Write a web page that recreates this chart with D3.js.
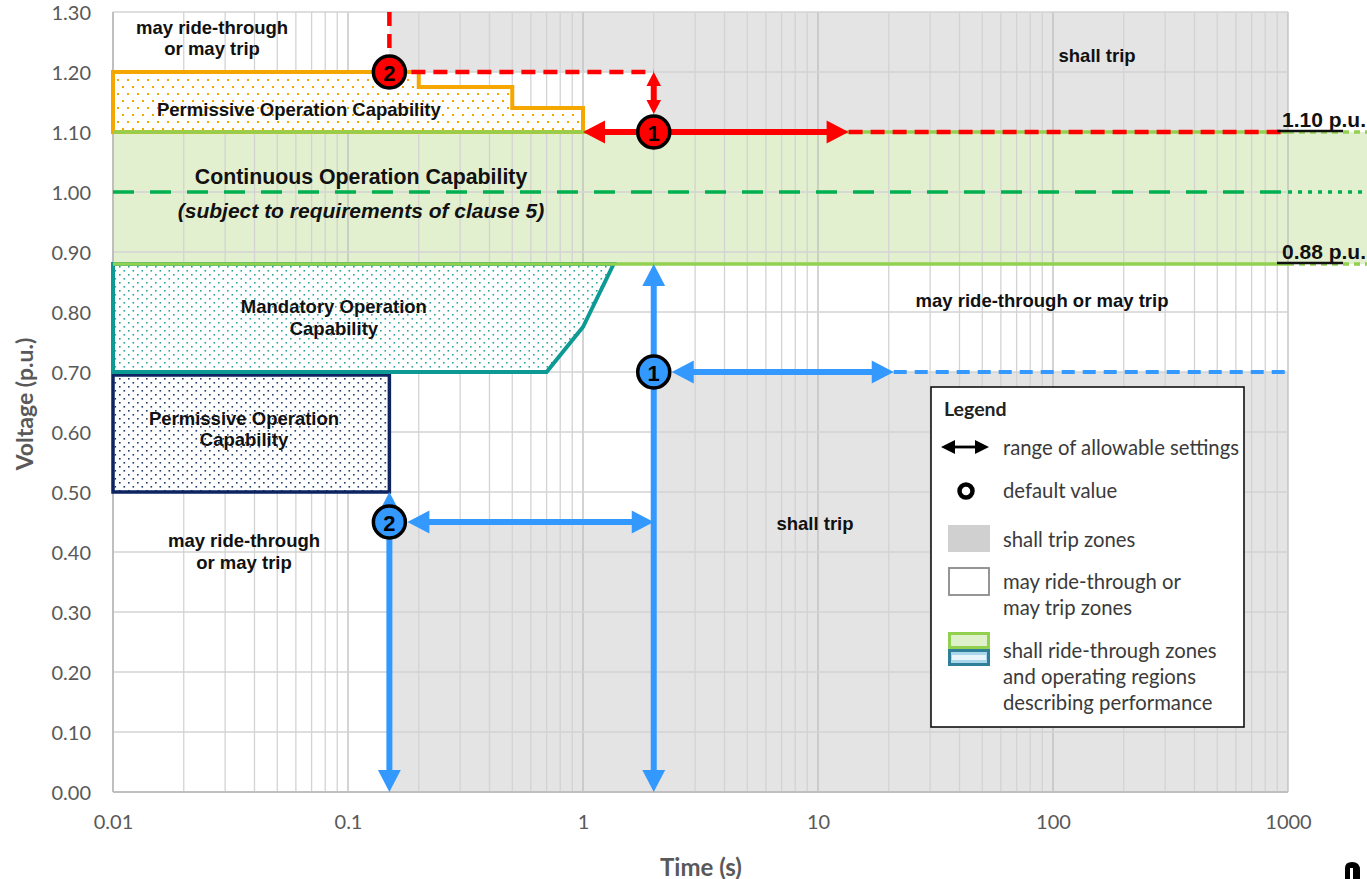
<!DOCTYPE html>
<html><head><meta charset="utf-8">
<script src="https://cdn.jsdelivr.net/npm/d3@7"></script>
<style>body{margin:0;background:#fff;} svg{display:block;}</style>
</head><body>
<svg id="c" width="1367" height="879"></svg>
<script>
// ---------------- DATA ----------------
const xTicks = [0.01, 0.1, 1, 10, 100, 1000];
const xTickLabels = ["0.01", "0.1", "1", "10", "100", "1000"];
const yTicks = [0, 0.1, 0.2, 0.3, 0.4, 0.5, 0.6, 0.7, 0.8, 0.9, 1.0, 1.1, 1.2, 1.3];
const yTickLabels = ["0.00","0.10","0.20","0.30","0.40","0.50","0.60","0.70","0.80","0.90","1.00","1.10","1.20","1.30"];

// shall-trip zones (time s, voltage p.u.)
const shallTripTop = [[0.15,1.30],[1000,1.30],[1000,1.10],[2,1.10],[2,1.20],[0.15,1.20]];
const shallTripBottom = [[0.15,0.45],[2,0.45],[2,0.70],[1000,0.70],[1000,0],[0.15,0]];
// continuous operation band
const continuousBand = [0.88, 1.10];
const nominalV = 1.00;
// permissive operation (over-voltage) staircase
const ovPermissive = [[0.01,1.10],[0.01,1.20],[0.2,1.20],[0.2,1.175],[0.5,1.175],[0.5,1.14],[1,1.14],[1,1.10]];
// mandatory operation region
const mandatory = [[0.01,0.88],[1.35,0.88],[1.0,0.775],[0.7,0.70],[0.01,0.70]];
// permissive operation (under-voltage)
const uvPermissive = [[0.01,0.50],[0.15,0.50],[0.15,0.695],[0.01,0.695]];

// default values
const ovDefaults = [{t:2, v:1.10, label:"1"}, {t:0.15, v:1.20, label:"2"}];
const uvDefaults = [{t:2, v:0.70, label:"1"}, {t:0.15, v:0.45, label:"2"}];

// ranges of allowable settings
const ovArrows = [
  {a:[2,1.20], b:[2,1.10], cutB:true, head:14},
  {a:[1,1.10], b:[13.5,1.10], head:22}
];
const ovDashed = [
  [[0.15,1.30],[0.15,1.20]],
  [[0.15,1.20],[2,1.20]],
  [[13.5,1.10],[1000,1.10]]
];
const uvArrows = [
  {a:[0.15,0.50], b:[0.15,0], head:22},
  {a:[0.15,0.45], b:[2,0.45], cutA:true, head:22},
  {a:[2,0.88], b:[2,0], head:22},
  {a:[2,0.70], b:[21,0.70], cutA:true, head:22}
];
const uvDashed = [ [[21,0.70],[1000,0.70]] ];

// region labels
const regionLabels = [
  {t:0.0264, v:[1.275,1.24], text:["may ride-through","or may trip"]},
  {t:154, v:[1.228], text:["shall trip"]},
  {t:0.0618, v:[1.137], text:["Permissive Operation Capability"]},
  {t:0.0871, v:[0.81,0.773], text:["Mandatory Operation","Capability"]},
  {t:89.8, v:[0.82], text:["may ride-through or may trip"]},
  {t:0.0361, v:[0.623,0.587], text:["Permissive Operation","Capability"]},
  {t:0.0361, v:[0.42,0.383], text:["may ride-through","or may trip"]},
  {t:9.71, v:[0.447], text:["shall trip"]}
];
const bandTitle = {t:0.1136, v:1.025, text:"Continuous Operation Capability"};
const bandSub = {t:0.1136, v:0.97, text:"(subject to requirements of clause 5)"};
const limitLabels = [{v:1.10, text:"1.10 p.u."},{v:0.88, text:"0.88 p.u."}];

const legendItems = ["range of allowable settings","default value","shall trip zones",
  ["may ride-through or","may trip zones"],["shall ride-through zones","and operating regions","describing performance"]];

// ---------------- CHART ----------------
const W = 1367, H = 879;
const svg = d3.select("#c");
const x = d3.scaleLog().domain([0.01, 1000]).range([113, 1288]);
const y = d3.scaleLinear().domain([0, 1.3]).range([792, 12]);
const P = d => [x(d[0]), y(d[1])];
const line = d3.line().x(d => x(d[0])).y(d => y(d[1]));

const defs = svg.append("defs");
function dotPattern(id, w, h, dots, color, size) {
  const p = defs.append("pattern").attr("id", id).attr("width", w).attr("height", h)
    .attr("patternUnits", "userSpaceOnUse");
  p.append("rect").attr("width", w).attr("height", h).attr("fill", "#fff");
  dots.forEach(d => p.append("rect").attr("x", d[0]).attr("y", d[1]).attr("width", size).attr("height", size).attr("fill", color));
}
dotPattern("pOrange", 10, 14, [[2,2],[7,9]], "#f5a700", 2);
dotPattern("pTeal", 9, 8, [[2,2],[6.5,6]], "#2aa39c", 1.6);
dotPattern("pNavy", 9, 8, [[2,2],[6.5,6]], "#1f3a70", 1.6);
dotPattern("pLegG", 5, 4, [[1,1]], "#ffffff", 1.5);

const GRAY = "#e4e4e4";
svg.append("path").attr("d", line(shallTripTop) + "Z").attr("fill", GRAY);
svg.append("path").attr("d", line(shallTripBottom) + "Z").attr("fill", GRAY);

// green band (extends past plot to the page edge)
const tEdge = x.invert(W);
svg.append("rect").attr("x", x(0.01)).attr("y", y(continuousBand[1]))
  .attr("width", x(tEdge) - x(0.01)).attr("height", y(continuousBand[0]) - y(continuousBand[1]))
  .attr("fill", "#e3f0cf");

// grid
const gGrid = svg.append("g");
const vLines = [];
for (let d = -2; d <= 2; d++) for (let k = 1; k <= 9; k++) vLines.push(k * Math.pow(10, d));
vLines.push(1000);
gGrid.selectAll("line.v").data(vLines).enter().append("line")
  .attr("x1", d => x(d)).attr("x2", d => x(d)).attr("y1", y(1.3)).attr("y2", y(0))
  .attr("stroke", d => Math.abs(Math.log10(d) - Math.round(Math.log10(d))) < 1e-9 ? "#bdbdbd" : "#d3d3d3")
  .attr("stroke-width", 1.3);
gGrid.selectAll("line.h").data(yTicks).enter().append("line")
  .attr("x1", x(0.01)).attr("x2", x(1000)).attr("y1", d => y(d)).attr("y2", d => y(d))
  .attr("stroke", "#d3d3d3").attr("stroke-width", 1.3);
svg.append("line").attr("x1", x(0.01)).attr("x2", x(1000)).attr("y1", y(0)).attr("y2", y(0)).attr("stroke", "#bfbfbf").attr("stroke-width", 2);
svg.append("line").attr("x1", x(0.01)).attr("x2", x(0.01)).attr("y1", y(0)).attr("y2", y(1.3)).attr("stroke", "#bfbfbf").attr("stroke-width", 2);

// axes
const axFont = "Lato, 'Open Sans', sans-serif";
const xAxis = d3.axisBottom(x).tickValues(xTicks).tickFormat((d, i) => xTickLabels[i]).tickSize(0).tickPadding(23);
const gx = svg.append("g").attr("transform", `translate(0,${y(0)})`).call(xAxis);
const yAxis = d3.axisLeft(y).tickValues(yTicks).tickFormat((d, i) => yTickLabels[i]).tickSize(0).tickPadding(22);
const gy = svg.append("g").attr("transform", `translate(${x(0.01)},0)`).call(yAxis);
[gx, gy].forEach(g => {
  g.select(".domain").remove();
  g.selectAll("text").attr("font-family", axFont).attr("font-size", 20).attr("fill", "#595959");
});
gy.selectAll("text").attr("dy", "0.36em");
svg.append("text").attr("transform", "translate(24,404) rotate(-90)").attr("text-anchor", "middle")
  .attr("dominant-baseline", "central")
  .attr("font-family", axFont).attr("font-weight", "bold").attr("font-size", 23).attr("fill", "#595959").text("Voltage (p.u.)");
svg.append("text").attr("x", 701).attr("y", 866).attr("text-anchor", "middle").attr("dominant-baseline", "central")
  .attr("font-family", axFont).attr("font-weight", "bold").attr("font-size", 24).attr("fill", "#595959").text("Time (s)");

// regions
svg.append("path").attr("d", line(uvPermissive) + "Z").attr("fill", "url(#pNavy)")
  .attr("stroke", "#0d2461").attr("stroke-width", 3.5);
svg.append("path").attr("d", line(mandatory) + "Z").attr("fill", "url(#pTeal)")
  .attr("stroke", "#0e9a94").attr("stroke-width", 4);
svg.append("path").attr("d", line(ovPermissive) + "Z").attr("fill", "url(#pOrange)")
  .attr("stroke", "#f5a700").attr("stroke-width", 4).attr("stroke-linejoin", "miter");

// band limit lines
const LG = "#92d050";
continuousBand.forEach(v => {
  svg.append("line").attr("x1", x(0.01)).attr("x2", x(1000)).attr("y1", y(v)).attr("y2", y(v)).attr("stroke", LG).attr("stroke-width", 3.5);
  svg.append("line").attr("x1", x(1000)).attr("x2", x(tEdge)).attr("y1", y(v)).attr("y2", y(v)).attr("stroke", LG).attr("stroke-width", 3.5).attr("stroke-dasharray", "6,5");
});
svg.append("line").attr("x1", x(0.01)).attr("x2", x(1000)).attr("y1", y(nominalV)).attr("y2", y(nominalV))
  .attr("stroke", "#00b050").attr("stroke-width", 3.5).attr("stroke-dasharray", "21,16");
svg.append("line").attr("x1", x(1000)).attr("x2", x(tEdge)).attr("y1", y(nominalV)).attr("y2", y(nominalV))
  .attr("stroke", "#00b050").attr("stroke-width", 3.5).attr("stroke-dasharray", "4,6");

// arrows
const R = 16;
function drawArrow(g, A, color, sw) {
  let [x1, y1] = P(A.a), [x2, y2] = P(A.b);
  const dx = x2 - x1, dy = y2 - y1, L = Math.hypot(dx, dy), ux = dx / L, uy = dy / L;
  if (A.cutA) { x1 += ux * (R + 2); y1 += uy * (R + 2); }
  if (A.cutB) { x2 -= ux * (R + 2); y2 -= uy * (R + 2); }
  const hl = A.head, hw = A.head * 0.52;
  g.append("line").attr("x1", x1 + ux * hl * 0.8).attr("y1", y1 + uy * hl * 0.8)
    .attr("x2", x2 - ux * hl * 0.8).attr("y2", y2 - uy * hl * 0.8).attr("stroke", color).attr("stroke-width", sw);
  const head = (tx, ty, sx, sy) => {
    const bx = tx + sx * hl, by = ty + sy * hl;
    return `M${tx},${ty}L${bx - sy * hw},${by + sx * hw}L${bx + sy * hw},${by - sx * hw}Z`;
  };
  g.append("path").attr("d", head(x1, y1, ux, uy)).attr("fill", color);
  g.append("path").attr("d", head(x2, y2, -ux, -uy)).attr("fill", color);
}
const RED = "#ff0000", BLUE = "#3399ff";
const gArr = svg.append("g");
ovDashed.forEach(s => gArr.append("path").attr("d", line(s)).attr("stroke", RED).attr("stroke-width", 4.5).attr("fill", "none").attr("stroke-dasharray", "14,8"));
uvDashed.forEach(s => gArr.append("path").attr("d", line(s)).attr("stroke", BLUE).attr("stroke-width", 4).attr("fill", "none").attr("stroke-dasharray", "13,8"));
ovArrows.forEach(A => drawArrow(gArr, A, RED, 6));
uvArrows.forEach(A => drawArrow(gArr, A, BLUE, 6));

function drawDefaults(data, color) {
  const g = svg.append("g");
  data.forEach(d => {
    g.append("circle").attr("cx", x(d.t)).attr("cy", y(d.v)).attr("r", R).attr("fill", color)
      .attr("stroke", "#000").attr("stroke-width", 3.5);
    g.append("text").attr("x", x(d.t)).attr("y", y(d.v) + 1).attr("text-anchor", "middle").attr("dominant-baseline", "central")
      .attr("font-family", "'Liberation Sans', Arial, sans-serif").attr("font-weight", "bold").attr("font-size", 22).attr("fill", "#000").text(d.label);
  });
}
drawDefaults(ovDefaults, RED);
drawDefaults(uvDefaults, BLUE);

// region labels
const lblFont = "'Liberation Sans', Arial, sans-serif";
regionLabels.forEach(L => {
  L.text.forEach((t, i) => svg.append("text").attr("x", x(L.t)).attr("y", y(L.v[i])).attr("text-anchor", "middle")
    .attr("dominant-baseline", "central").attr("font-family", lblFont).attr("font-weight", "bold").attr("font-size", 18.5)
    .attr("fill", "#111").text(t));
});
svg.append("text").attr("x", x(bandTitle.t)).attr("y", y(bandTitle.v)).attr("text-anchor", "middle").attr("dominant-baseline", "central")
  .attr("font-family", lblFont).attr("font-weight", "bold").attr("font-size", 21.3).attr("fill", "#111").text(bandTitle.text);
svg.append("text").attr("x", x(bandSub.t)).attr("y", y(bandSub.v)).attr("text-anchor", "middle").attr("dominant-baseline", "central")
  .attr("font-family", lblFont).attr("font-weight", "bold").attr("font-style", "italic").attr("font-size", 21).attr("fill", "#111").text(bandSub.text);
limitLabels.forEach(L => {
  const tx = x(1000) - 6;
  svg.append("text").attr("x", tx).attr("y", y(L.v) - 5).attr("font-family", lblFont).attr("font-weight", "bold")
    .attr("font-size", 21).attr("fill", "#111").text(L.text);
  svg.append("line").attr("x1", tx - 5).attr("x2", tx + 61).attr("y1", y(L.v) - 1).attr("y2", y(L.v) - 1).attr("stroke", "#111").attr("stroke-width", 2.5);
});

// legend
const lg = svg.append("g");
lg.append("rect").attr("x", 931).attr("y", 387).attr("width", 313).attr("height", 340).attr("fill", "#fff").attr("stroke", "#111").attr("stroke-width", 1.6);
const legFont = "Lato, 'Open Sans', sans-serif";
lg.append("text").attr("x", 944).attr("y", 408).attr("dominant-baseline", "central").attr("font-family", legFont).attr("font-weight", "bold").attr("font-size", 19.5).attr("fill", "#222").text("Legend");
const legText = (t, yy) => lg.append("text").attr("x", 1003).attr("y", yy).attr("dominant-baseline", "central").attr("font-family", legFont).attr("font-size", 20.3).attr("fill", "#3a3a3a").text(t);
lg.append("line").attr("x1", 950).attr("x2", 980).attr("y1", 447).attr("y2", 447).attr("stroke", "#000").attr("stroke-width", 2.8);
lg.append("path").attr("d", "M941,447L955,440L955,454Z M989,447L975,440L975,454Z").attr("fill", "#000");
legText(legendItems[0], 447);
lg.append("circle").attr("cx", 966).attr("cy", 491).attr("r", 6.5).attr("fill", "none").attr("stroke", "#000").attr("stroke-width", 4.5);
legText(legendItems[1], 490);
lg.append("rect").attr("x", 948).attr("y", 525).attr("width", 42).attr("height", 27).attr("fill", "#d0d0d0");
legText(legendItems[2], 539);
lg.append("rect").attr("x", 949).attr("y", 568).attr("width", 40).attr("height", 27).attr("fill", "#fff").attr("stroke", "#8a8a8a").attr("stroke-width", 1.8);
legText(legendItems[3][0], 581); legText(legendItems[3][1], 607);
lg.append("rect").attr("x", 948).attr("y", 632).attr("width", 42).attr("height", 17).attr("fill", "#92d050");
lg.append("rect").attr("x", 951).attr("y", 635).attr("width", 36).attr("height", 11).attr("fill", "url(#pLegG)").attr("opacity", 0.7);
lg.append("rect").attr("x", 949.5).attr("y", 650.5).attr("width", 39).attr("height", 14).attr("fill", "#a9d6ea").attr("stroke", "#2f7f99").attr("stroke-width", 3);
lg.append("rect").attr("x", 952).attr("y", 655).attr("width", 34).attr("height", 5).attr("fill", "#e8f5fb");
legText(legendItems[4][0], 650); legText(legendItems[4][1], 676); legText(legendItems[4][2], 702);

// corner artifact
svg.append("path").attr("d", "M1345,879L1345,868Q1345,862 1352,862Q1360,862 1360,870L1360,879Z").attr("fill", "#000");
svg.append("rect").attr("x", 1350).attr("y", 868).attr("width", 3).attr("height", 11).attr("fill", "#fff");
</script>
</body></html>
